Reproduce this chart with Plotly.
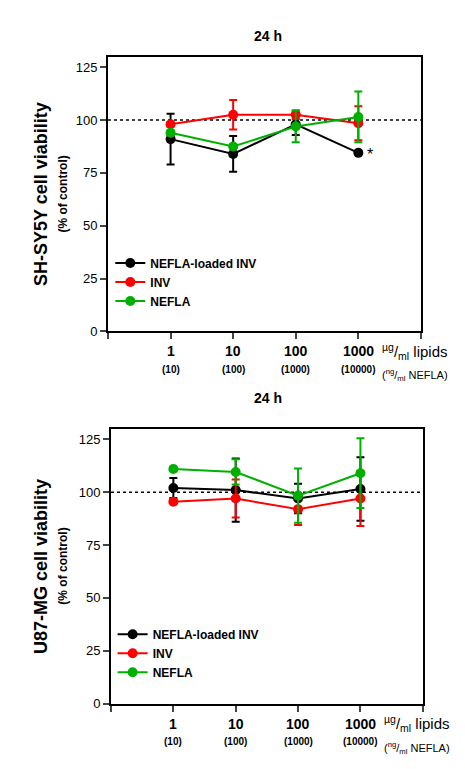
import plotly.graph_objects as go

# concentrations (µg/ml lipids) and NEFLA equivalents (ng/ml)
doses = ['1', '10', '100', '1000']
nefla_doses = ['(10)', '(100)', '(1000)', '(10000)']
xpos = [1, 2, 3, 4]

series_names = ['NEFLA-loaded INV', 'INV', 'NEFLA']
colors = ['#000000', '#ff0000', '#00b000']

# SH-SY5Y, 24 h
sh_loaded = [91, 84, 98, 84.5]
sh_loaded_err = [12, 8.5, 5, 0]
sh_inv = [98, 102.5, 102.5, 98.5]
sh_inv_err = [1, 7, 2, 8]
sh_nefla = [94, 87.5, 97, 101.5]
sh_nefla_err = [1, 1, 7.5, 12]

# U87-MG, 24 h
u87_loaded = [102, 101, 97, 101.5]
u87_loaded_err = [4.7, 15, 7, 15]
u87_inv = [95.5, 97, 92, 97]
u87_inv_err = [1, 9, 7.5, 13]
u87_nefla = [111, 109.6, 98.4, 109]
u87_nefla_err = [1, 6, 12.8, 16.5]

FONT = 'Arial, Liberation Sans, sans-serif'

fig = go.Figure()

panels = [
    ('', [sh_loaded, sh_inv, sh_nefla], [sh_loaded_err, sh_inv_err, sh_nefla_err], 'legend'),
    ('2', [u87_loaded, u87_inv, u87_nefla], [u87_loaded_err, u87_inv_err, u87_nefla_err], 'legend2'),
]
for suffix, vals, errs, leg in panels:
    # dotted control line
    fig.add_trace(go.Scatter(x=[0, 5], y=[100, 100], mode='lines', showlegend=False,
                             line=dict(color='black', width=1.5, dash='dot'),
                             xaxis='x' + suffix, yaxis='y' + suffix, hoverinfo='skip'))
    for name, v, e, c in zip(series_names, vals, errs, colors):
        fig.add_trace(go.Scatter(
            x=xpos, y=v, name='<b>%s</b>' % name, mode='lines+markers',
            line=dict(color=c, width=2), marker=dict(color=c, size=10),
            error_y=dict(type='data', array=e, color=c, thickness=2, width=4),
            xaxis='x' + suffix, yaxis='y' + suffix, legend=leg))

xax = dict(range=[0, 5], tickvals=[0] + xpos + [5], ticktext=[''] * 6,
           showline=True, linecolor='black', linewidth=2, mirror=True, ticks='outside',
           ticklen=6, tickwidth=2, showgrid=False, zeroline=False)
yax = dict(range=[0, 130], tickvals=[0, 25, 50, 75, 100, 125], showline=True,
           linecolor='black', linewidth=2, mirror=True, ticks='outside', ticklen=6,
           tickwidth=2, showgrid=False, zeroline=False,
           tickfont=dict(family=FONT, size=13, color='black'))

leg_style = dict(bgcolor='rgba(0,0,0,0)', font=dict(family=FONT, size=12, color='black'),
                 tracegroupgap=0, itemwidth=30)

fig.update_layout(
    width=465, height=769, margin=dict(l=0, r=0, t=0, b=0),
    plot_bgcolor='white', paper_bgcolor='white',
    font=dict(family=FONT, color='black'),
    xaxis=dict(xax, domain=[0.215, 0.888], anchor='y'),
    yaxis=dict(yax, domain=[0.575, 0.936], anchor='x'),
    xaxis2=dict(xax, domain=[0.2215, 0.892], anchor='y2'),
    yaxis2=dict(yax, domain=[0.086, 0.447], anchor='x2'),
    legend=dict(leg_style, x=0.22, y=0.64, xanchor='left', yanchor='middle'),
    legend2=dict(leg_style, x=0.225, y=0.152, xanchor='left', yanchor='middle'),
)

ann = []
for suffix, ytitle, ytop in [('', 'SH-SY5Y', 0.936), ('2', 'U87-MG', 0.447)]:
    xref = 'x' + suffix
    yref = 'y' + suffix
    ann.append(dict(text='<b>24 h</b>', xref='paper', yref='paper', x=0.56, y=ytop + 0.04,
                    showarrow=False, font=dict(size=14)))
    for xp, d, nd in zip(xpos, doses, nefla_doses):
        ann.append(dict(text='<b>%s</b>' % d, xref=xref, yref=yref, x=xp, y=0, yshift=-20,
                        showarrow=False, font=dict(size=14)))
        ann.append(dict(text='<b>%s</b>' % nd, xref=xref, yref=yref, x=xp, y=0, yshift=-38,
                        showarrow=False, font=dict(size=10)))
    ann.append(dict(text='<sup>µg</sup>/<sub>ml</sub> lipids', xref=xref, yref=yref, x=4.35, y=0,
                    yshift=-20, xanchor='left', showarrow=False, font=dict(size=15)))
    ann.append(dict(text='(<sup>ng</sup>/<sub>ml</sub> NEFLA)', xref=xref, yref=yref, x=4.35, y=0,
                    yshift=-44, xanchor='left', showarrow=False, font=dict(size=11)))
    ann.append(dict(text='<b>%s cell viability</b>' % ytitle, xref='paper', yref=yref, x=0.045, y=65,
                    textangle=-90, showarrow=False, font=dict(size=18)))
    ann.append(dict(text='<b>(% of control)</b>', xref='paper', yref=yref, x=0.1, y=65,
                    textangle=-90, showarrow=False, font=dict(size=12)))

ann.append(dict(text='*', xref='x', yref='y', x=4, y=sh_loaded[3], xshift=12, yshift=-2,
                showarrow=False, font=dict(size=16)))
fig.update_layout(annotations=ann)

fig.write_html('out.html')
